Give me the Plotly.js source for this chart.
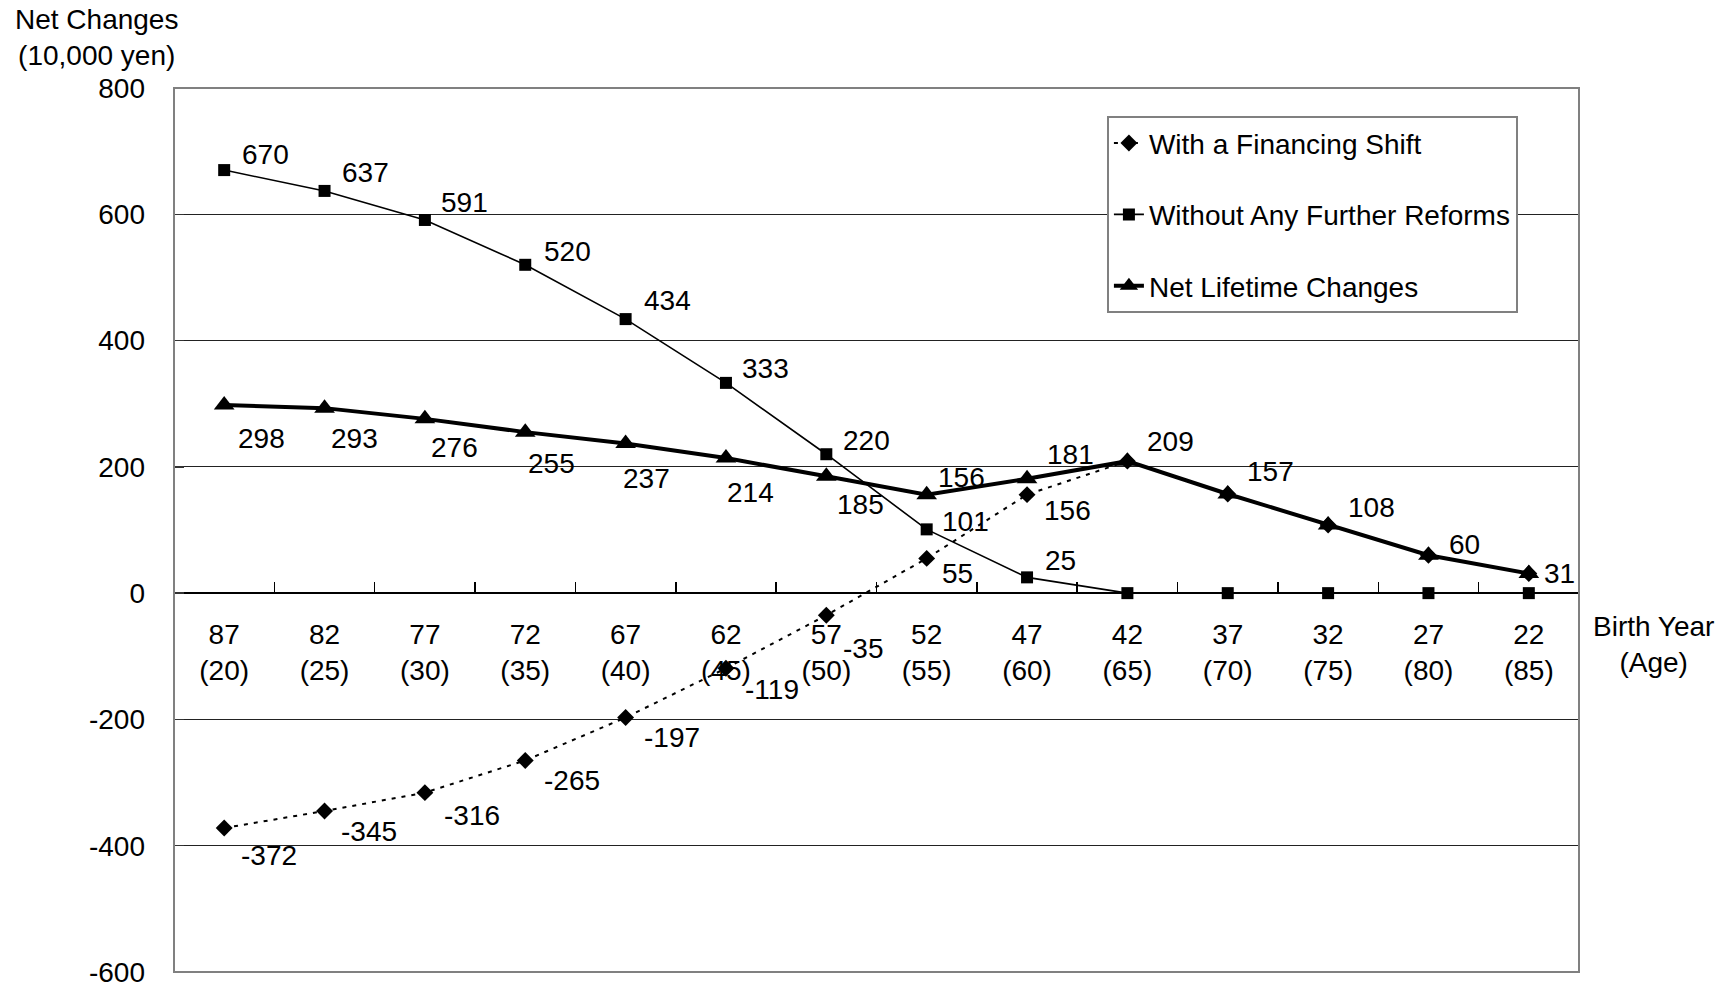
<!DOCTYPE html>
<html>
<head>
<meta charset="utf-8">
<script src="https://cdn.plot.ly/plotly-3.0.1.min.js"></script>
<style>html,body{margin:0;padding:0;background:#fff;}#chart{width:1732px;height:987px;}</style>
</head>
<body>
<div id="chart"></div>
<script>
// ---- data ----
const birthYears = ['87','82','77','72','67','62','57','52','47','42','37','32','27','22'];
const ages = ['20','25','30','35','40','45','50','55','60','65','70','75','80','85'];
const financingShift = [-372,-345,-316,-265,-197,-119,-35,55,156,209,157,108,60,31];
const withoutReforms = [670,637,591,520,434,333,220,101,25,0,0,0,0,0];
const netLifetime = [298,293,276,255,237,214,185,156,181,209,157,108,60,31];
const seriesNames = ['With a Financing Shift','Without Any Further Reforms','Net Lifetime Changes'];
const yTicks = [-600,-400,-200,0,200,400,600,800];

// ---- label placement (style: pixel offsets of each value label, null = no label) ----
const offFin = [[45,27],[44,21],[47,23],[47,20],[46,20],[46,21],[37,33],[31,15],[40,16],null,null,null,null,null];
const offWo  = [[41,-16],[41,-18],[40,-17],[42,-13],[42,-19],[40,-14],[40,-14],[39,-8],[33,-17],null,null,null,null,null];
const offNet = [[37,34],[30,30],[30,29],[26,31],[21,35],[25,34],[34,28],[35,-17],[43,-24],[43,-20],[43,-23],[43,-17],[36,-11],[31,0]];

const FONT = 'Liberation Sans, Arial, sans-serif';
const FS = 28;
const cats = birthYears.map((b,i)=> b + '<br>(' + ages[i] + ')');

const traces = [
  {x: cats, y: financingShift, name: seriesNames[0], type:'scatter', mode:'lines+markers',
   legendgroup:'a', line:{color:'#000', width:2, dash:'4px,6px'},
   marker:{symbol:'diamond', size:13, color:'#000'}},
  {x: cats, y: withoutReforms, name: seriesNames[1], type:'scatter', mode:'lines+markers',
   legendgroup:'b', line:{color:'#000', width:1.6},
   marker:{symbol:'square', size:12, color:'#000'}},
  {x: cats, y: netLifetime, name: seriesNames[2], type:'scatter', mode:'lines+markers',
   legendgroup:'c', line:{color:'#000', width:4},
   marker:{symbol:'triangle-up', size:18, color:'#000'}}
];

const annotations = [];
function addLabels(vals, offs){
  vals.forEach((v,i)=>{
    if(!offs[i]) return;
    annotations.push({x: cats[i], y: v, xref:'x', yref:'y', text: String(v), showarrow:false,
      xanchor:'center', yanchor:'middle', xshift: offs[i][0], yshift: -offs[i][1],
      font:{family:FONT, size:FS, color:'#000'}});
  });
}
addLabels(financingShift, offFin);
addLabels(withoutReforms, offWo);
addLabels(netLifetime, offNet);

annotations.push({xref:'paper', yref:'paper', x:-0.055, y:1.057, text:'Net Changes<br>(10,000 yen)',
  showarrow:false, xanchor:'center', yanchor:'middle', font:{family:FONT, size:FS, color:'#000'}});
annotations.push({xref:'paper', yref:'paper', x:1.053, y:0.37, text:'Birth Year<br>(Age)',
  showarrow:false, xanchor:'center', yanchor:'middle', font:{family:FONT, size:FS, color:'#000'}});

const yMin = yTicks[0], yMax = yTicks[yTicks.length-1];

const layout = {
  width:1732, height:987,
  margin:{l:174, r:153, t:88, b:15, pad:0},
  paper_bgcolor:'#fff', plot_bgcolor:'#fff',
  font:{family:FONT, size:FS, color:'#000'},
  showlegend:true,
  legend:{x:0.664, y:0.968, xanchor:'left', yanchor:'top', bgcolor:'#fff',
    bordercolor:'#808080', borderwidth:2, tracegroupgap:32,
    font:{family:FONT, size:FS, color:'#000'}},
  xaxis:{type:'category', range:[-0.5, birthYears.length - 0.5], anchor:'free', position:(0 - yMin)/(yMax - yMin),
    showline:true, linecolor:'#000', linewidth:2,
    ticks:'inside', tickson:'boundaries', ticklen:10, tickcolor:'#000', tickwidth:1.5,
    showgrid:false, zeroline:false, ticklabelstandoff:16,
    tickfont:{family:FONT, size:FS, color:'#000'}, fixedrange:true},
  yaxis:{range:[yMin, yMax], tickvals:yTicks, ticktext:yTicks.map(String),
    showgrid:true, gridcolor:'#222', gridwidth:1, zeroline:false,
    showline:false, ticks:'inside', ticklen:10, tickcolor:'#333', tickwidth:1.5,
    ticklabelstandoff:28, ticklabeloverflow:'allow',
    tickfont:{family:FONT, size:FS, color:'#000'}, fixedrange:true},
  shapes:[{type:'rect', xref:'paper', yref:'paper', x0:0, x1:1, y0:0, y1:1,
    line:{color:'#808080', width:2}, layer:'above'}],
  annotations: annotations
};

Plotly.newPlot('chart', traces, layout, {displayModeBar:false, staticPlot:true});
</script>
</body>
</html>
